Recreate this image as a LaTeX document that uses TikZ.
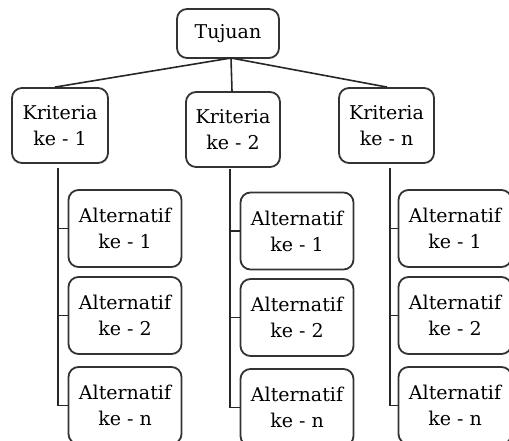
\documentclass[tikz,border=0pt]{standalone}
\usepackage{fontspec}
\setmainfont{DejaVu Serif}
\begin{document}
\begin{tikzpicture}[x=1pt,y=-1pt,
  box/.style={draw=black!80,line width=1.8pt,rounded corners=10pt,align=center,
    font=\fontsize{19}{26}\selectfont,inner sep=0pt},
  conn/.style={draw=black!85,line width=1.6pt}]
\useasboundingbox (0,0) rectangle (509,441);
\clip (0,0) rectangle (509,441);
\node[box,minimum width=102pt,minimum height=49pt] (T) at (228,33.5) {Tujuan};
\node[box,minimum width=96pt,minimum height=75pt] (K1) at (60,125.5) {Kriteria\\ke - 1};
\node[box,minimum width=94pt,minimum height=75pt] (K2) at (233,129.5) {Kriteria\\ke - 2};
\node[box,minimum width=95pt,minimum height=75pt] (K3) at (386.5,125.5) {Kriteria\\ke - n};
\foreach \c/\x/\ya/\yb/\yc in {1/125/228.5/315.5/405.5, 2/297/231/317.5/407.5, 3/455/228.5/315.5/405.5}{
  \node[box,minimum width=113pt,minimum height=77pt] (A\c1) at (\x,\ya) {Alternatif\\ke - 1};
  \node[box,minimum width=113pt,minimum height=77pt] (A\c2) at (\x,\yb) {Alternatif\\ke - 2};
  \node[box,minimum width=113pt,minimum height=77pt] (A\c3) at (\x,\yc) {Alternatif\\ke - n};
}
\coordinate (t) at (231,58);
\draw[conn] (t) -- (K1.north -| 55,0);
\draw[conn] (t) -- (K2.north -| 232,0);
\draw[conn] (t) -- (K3.north -| 387,0);
\coordinate (c1) at (58,168);
\coordinate (c2) at (230,169);
\coordinate (c3) at (390,168);
\foreach \c in {1,2,3}{
  \draw[conn] (c\c) |- (A\c3.west);
  \draw[conn] (c\c |- A\c1.west) -- (A\c1.west);
  \draw[conn] (c\c |- A\c2.west) -- (A\c2.west);
}
\end{tikzpicture}
\end{document}
